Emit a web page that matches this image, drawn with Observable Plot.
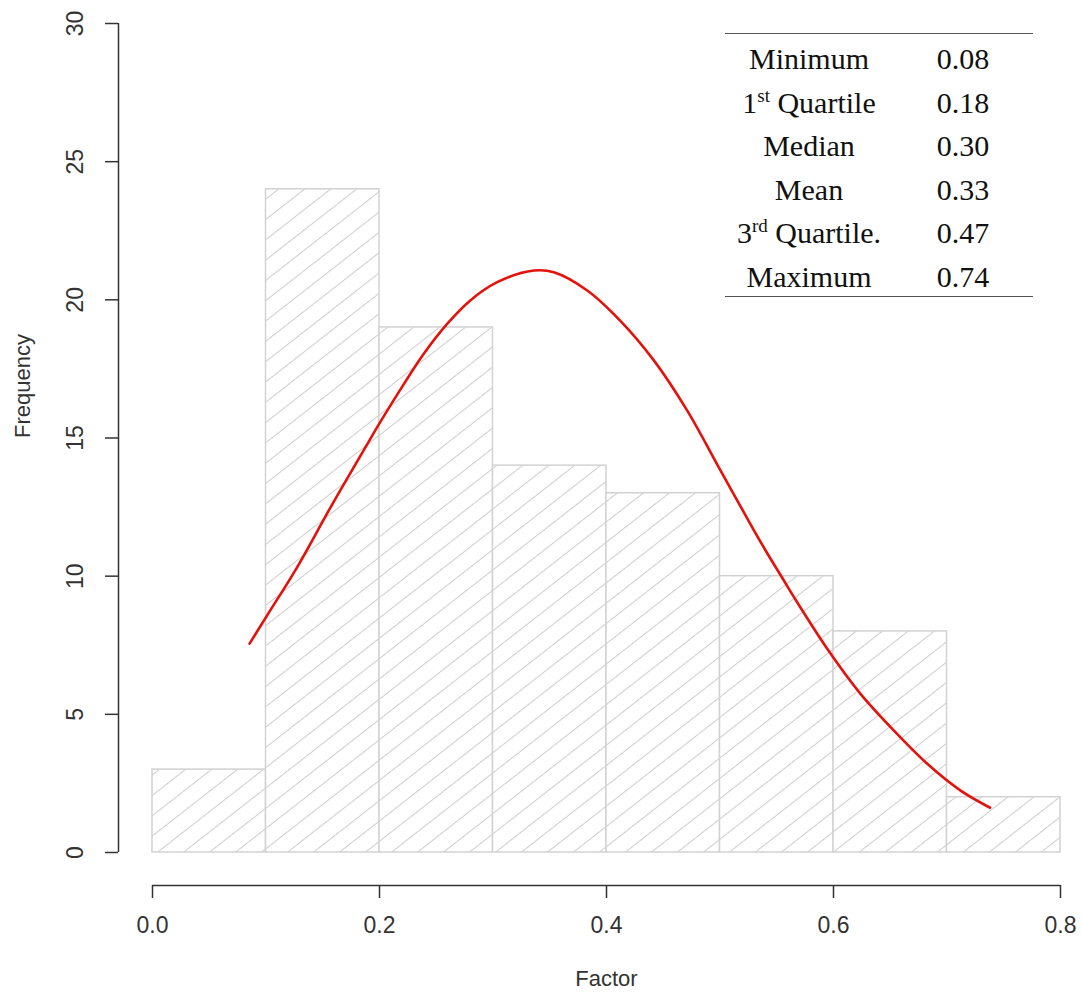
<!DOCTYPE html>
<html>
<head>
<meta charset="utf-8">
<script src="https://cdn.jsdelivr.net/npm/d3@7"></script>
<script src="https://cdn.jsdelivr.net/npm/@observablehq/plot@0.6"></script>
<style>
  html, body { margin: 0; padding: 0; background: #fff; }
  #wrap { position: relative; width: 1081px; height: 995px; }
  #stats {
    position: absolute; left: 725px; top: 33px; width: 308px;
    border-collapse: collapse;
    font-family: "Liberation Serif", "Times New Roman", serif;
    font-size: 30px; color: #111;
    border-top: 1.2px solid #555; border-bottom: 1.2px solid #555;
  }
  #stats td { text-align: center; padding: 6px 0 0 0; height: 37.6px; line-height: 37.6px; }
  #stats td.lab { width: 168px; }
  #stats sup { font-size: 19px; line-height: 0; vertical-align: 11px; }
</style>
</head>
<body>
<div id="wrap"></div>
<script>
// Histogram bins (Factor) and their counts
const binStart = [0.0, 0.1, 0.2, 0.3, 0.4, 0.5, 0.6, 0.7];
const binEnd   = [0.1, 0.2, 0.3, 0.4, 0.5, 0.6, 0.7, 0.8];
const counts   = [3, 24, 19, 14, 13, 10, 8, 2];

// Scaled density curve
const curveX = [0.0855, 0.101, 0.1275, 0.157, 0.186, 0.201, 0.2214, 0.239, 0.2596, 0.280,
                0.3037, 0.336, 0.3536, 0.383, 0.412, 0.4417, 0.471, 0.5004, 0.530, 0.5416,
                0.556, 0.565, 0.594, 0.6238, 0.653, 0.6826, 0.712, 0.738];
const curveY = [7.56, 8.58, 10.33, 12.5, 14.55, 15.6, 16.95, 18.05, 19.13, 19.98,
                20.64, 21.06, 21.0, 20.34, 19.25, 17.81, 16.0, 13.83, 11.65, 10.83,
                9.86, 9.25, 7.4, 5.74, 4.42, 3.21, 2.24, 1.62];

// Axis ticks
const xTicks = [0, 0.2, 0.4, 0.6, 0.8];
const yTicks = [0, 5, 10, 15, 20, 25, 30];

// Summary statistics
const statLabels = ["Minimum", "1st Quartile", "Median", "Mean", "3rd Quartile.", "Maximum"];
const statValues = ["0.08", "0.18", "0.30", "0.33", "0.47", "0.74"];

const bins = binStart.map((s, i) => ({x1: s, x2: binEnd[i], count: counts[i]}));
const curve = curveX.map((x, i) => ({x, y: curveY[i]}));

const font = "'Liberation Sans', Arial, sans-serif";
const axisColor = "#333";

const chart = Plot.plot({
  width: 1081,
  height: 995,
  marginLeft: 152,
  marginRight: 21,
  marginTop: 23,
  marginBottom: 143,
  style: {fontFamily: font, fontSize: "22px", color: axisColor, background: "#fff"},
  x: {domain: [0, 0.8]},
  y: {domain: [0, 30]},
  marks: [
    Plot.rect(bins, {
      x1: "x1", x2: "x2", y1: 0, y2: "count",
      fill: "url(#hatch)", stroke: "#d2d2d2", strokeWidth: 1.5
    }),
    Plot.line(curve, {x: "x", y: "y", stroke: "#e3120b", strokeWidth: 2.6, curve: "catmull-rom"}),
    // offset axis lines
    Plot.ruleX([0], {y1: 0, y2: 30, dx: -34, stroke: axisColor, strokeWidth: 1.5}),
    Plot.ruleY([0], {x1: 0, x2: 0.8, dy: 33, stroke: axisColor, strokeWidth: 1.5}),
    Plot.axisY({
      ticks: yTicks, tickSize: 13, tickPadding: 23, dx: -34,
      tickRotate: -90, label: null, strokeWidth: 1.5, fontSize: 23
    }),
    Plot.axisX({
      ticks: xTicks, tickSize: 13, tickPadding: 18, dy: 33,
      tickFormat: d3.format(".1f"), label: null, strokeWidth: 1.5, fontSize: 23
    }),
    Plot.text(["Factor"], {frameAnchor: "bottom", dy: 133, fontSize: 22, fill: axisColor}),
    Plot.text(["Frequency"], {frameAnchor: "left", dx: -130, rotate: -90, fontSize: 22, fill: axisColor})
  ]
});

// Diagonal hatching used by the bars
const svg = d3.select(chart);
const defs = svg.insert("defs", ":first-child");
const pat = defs.append("pattern")
  .attr("id", "hatch")
  .attr("patternUnits", "userSpaceOnUse")
  .attr("width", 16).attr("height", 16)
  .attr("patternTransform", "rotate(-38)");
pat.append("rect").attr("width", 16).attr("height", 16).attr("fill", "#fff");
pat.append("line")
  .attr("x1", 0).attr("y1", 0.5).attr("x2", 16).attr("y2", 0.5)
  .attr("stroke", "#cfcfcf").attr("stroke-width", 1.1);

const wrap = document.getElementById("wrap");
wrap.appendChild(chart);

// Summary table in the upper right corner
const table = document.createElement("table");
table.id = "stats";
statLabels.forEach((lab, i) => {
  const tr = document.createElement("tr");
  const td1 = document.createElement("td");
  td1.className = "lab";
  const m = lab.match(/^(\d)(st|nd|rd|th)(.*)$/);
  if (m) {
    td1.append(m[1]);
    const sup = document.createElement("sup");
    sup.textContent = m[2];
    td1.append(sup, m[3]);
  } else {
    td1.textContent = lab;
  }
  const td2 = document.createElement("td");
  td2.className = "val";
  td2.textContent = statValues[i];
  tr.append(td1, td2);
  table.appendChild(tr);
});
wrap.appendChild(table);
</script>
</body>
</html>
